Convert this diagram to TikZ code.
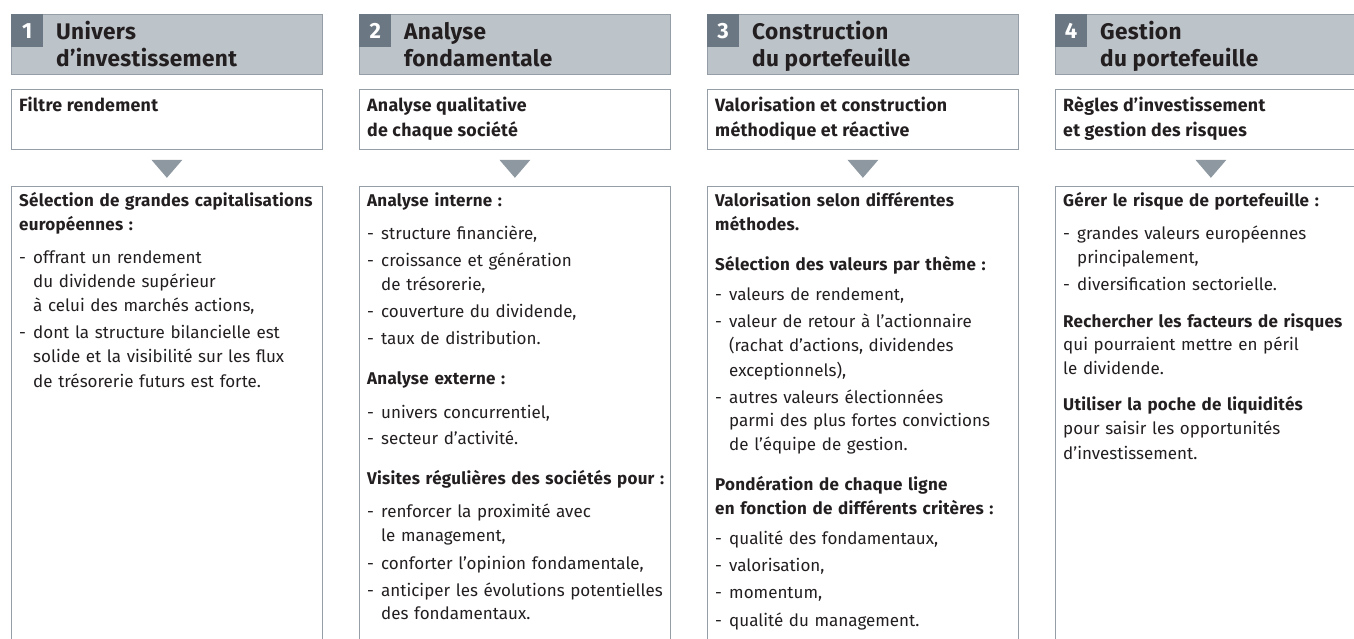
\documentclass[tikz,border=0pt]{standalone}
\usepackage{fontspec}
\setmainfont[BoldFeatures={LetterSpace=1.5}]{Fira Sans}
\usetikzlibrary{calc}
\definecolor{hdrfill}{HTML}{BCC3C9}
\definecolor{numfill}{HTML}{6B7883}
\definecolor{boxline}{HTML}{959EA6}
\definecolor{trifill}{HTML}{8E98A1}
\definecolor{txt}{HTML}{231F20}
\newcommand\itm[1]{\par\vspace{3pt}\hangindent=14pt\hangafter=1\noindent\makebox[14pt][l]{-}#1}
\newcommand\hd[2][16pt]{\par\vspace{#1}\noindent\textbf{#2}}
\newcommand\pcol[6]{%
  \node[hdrbox] (h#1) at (#2,14) {};
  \node[numbox] (n#1) at (h#1.north west) {#3};
  \node[titletxt] (t#1) at (#2+45,20) {\strut #4};
  \node[fbox] (f#1) at (#2,89) {};
  \node[ftxt] (ft#1) at (#2+8,94) {\strut #5};
  \node[mbox] (m#1) at (#2,186) {};
  \fill[trifill] ($(f#1.south)+(-15.5,10)$) -- ++(31,0) -- ++(-15.5,18) -- cycle;
  \node[btxt] (b#1) at (#2+8,190) {#6\par};
}
\begin{document}
\begin{tikzpicture}[x=1pt,y=-1pt,
  every node/.style={text=txt},
  hdrbox/.style={draw=boxline, fill=hdrfill, line width=0.8pt, minimum width=311pt, minimum height=60pt, inner sep=0pt, anchor=north west},
  numbox/.style={fill=numfill, minimum width=32pt, minimum height=33pt, inner sep=0pt, anchor=north west, text=white, font=\fontsize{22}{27}\selectfont\bfseries},
  titletxt/.style={anchor=north west, inner sep=0pt, align=left, font=\fontsize{22.6}{27}\selectfont\bfseries},
  fbox/.style={draw=boxline, line width=0.8pt, minimum width=311pt, minimum height=60pt, inner sep=0pt, anchor=north west},
  ftxt/.style={anchor=north west, inner sep=0pt, align=left, font=\fontsize{17.8}{25}\selectfont\bfseries},
  mbox/.style={draw=boxline, line width=0.8pt, minimum width=311pt, minimum height=480pt, inner sep=0pt, anchor=north west},
  btxt/.style={anchor=north west, inner sep=0pt, text width=360pt, align=left, font=\fontsize{17}{24}\selectfont},
]
\useasboundingbox (0,0) rectangle (1354,639);
\clip (0,0) rectangle (1354,639);
\pcol{1}{11}{1}{Univers\\d'investissement}{Filtre rendement}{%
\noindent\strut\textbf{Sélection de grandes capitalisations\newline européennes :}\par\vspace{6pt}
\itm{offrant un rendement\newline du dividende supérieur\newline à celui des marchés actions,}
\itm{dont la structure bilancielle est\newline solide et la visibilité sur les flux\newline de trésorerie futurs est forte.}}
\pcol{2}{359}{2}{Analyse\\fondamentale}{Analyse qualitative\\de chaque société}{%
\noindent\strut\textbf{Analyse interne :}\par\vspace{6pt}
\itm{structure financière,}
\itm{croissance et génération\newline de trésorerie,}
\itm{couverture du dividende,}
\itm{taux de distribution.}
\hd{Analyse externe :}\par\vspace{6pt}
\itm{univers concurrentiel,}
\itm{secteur d'activité.}
\hd{Visites régulières des sociétés pour :}\par\vspace{6pt}
\itm{renforcer la proximité avec\newline le management,}
\itm{conforter l'opinion fondamentale,}
\itm{anticiper les évolutions potentielles\newline des fondamentaux.}}
\pcol{3}{707}{3}{Construction\\du portefeuille}{Valorisation et construction\\méthodique et réactive}{%
\noindent\strut\textbf{Valorisation selon différentes\newline méthodes.}
\hd{Sélection des valeurs par thème :}\par\vspace{3pt}
\itm{valeurs de rendement,}
\itm{valeur de retour à l'actionnaire\newline (rachat d'actions, dividendes\newline exceptionnels),}
\itm{autres valeurs électionnées\newline parmi des plus fortes convictions\newline de l'équipe de gestion.}
\hd{Pondération de chaque ligne\newline en fonction de différents critères :}\par\vspace{3pt}
\itm{qualité des fondamentaux,}
\itm{valorisation,}
\itm{momentum,}
\itm{qualité du management.}}
\pcol{4}{1055}{4}{Gestion\\du portefeuille}{Règles d'investissement\\et gestion des risques}{%
\noindent\strut\textbf{Gérer le risque de portefeuille :}\par\vspace{6pt}
\itm{grandes valeurs européennes\newline principalement,}
\itm{diversification sectorielle.}
\hd[12pt]{Rechercher les facteurs de risques}\newline qui pourraient mettre en péril\newline le dividende.
\hd[12pt]{Utiliser la poche de liquidités}\newline pour saisir les opportunités\newline d'investissement.}
\end{tikzpicture}
\end{document}
